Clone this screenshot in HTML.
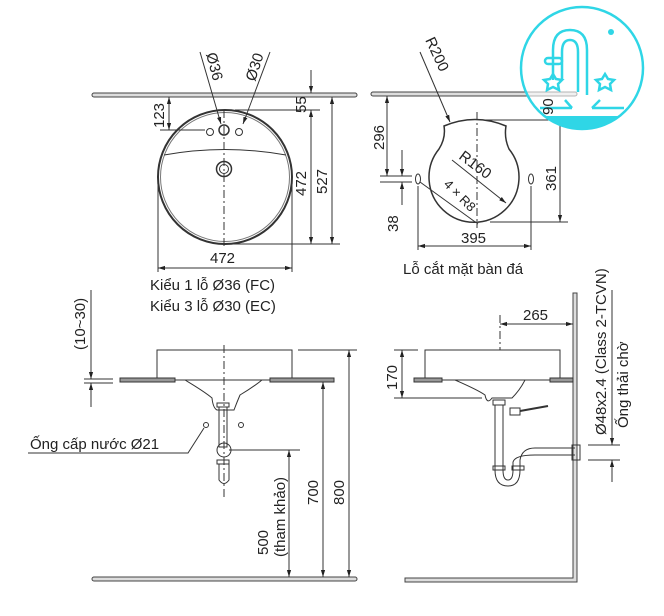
<!DOCTYPE html>
<html><head><meta charset="utf-8"><style>
html,body{margin:0;padding:0;background:#fff;}
svg{display:block;}
text{font-family:"Liberation Sans","Noto Sans CJK SC",sans-serif;fill:#222;}
</style></head><body>
<svg width="664" height="616" viewBox="0 0 664 616" xmlns="http://www.w3.org/2000/svg">
<defs>
<marker id="a" viewBox="0 0 10 10" refX="10" refY="5" markerWidth="7" markerHeight="7" orient="auto-start-reverse"><path d="M0,2 L10,5 L0,8 z" fill="#222"/></marker>
<clipPath id="lc"><circle cx="582" cy="68" r="61"/></clipPath>
</defs>
<g stroke="#333" stroke-width="1" fill="none">
<!-- TOP LEFT -->
<rect x="92" y="93" width="265" height="4" rx="2" fill="#ddd" stroke="#444"/>
<circle cx="225" cy="177" r="67" stroke-width="2"/>
<circle cx="225" cy="177" r="64.5" stroke="#777"/>
<path d="M164,155 Q225,144 286,155"/>
<circle cx="224" cy="169" r="7.5" stroke-width="1.5"/><circle cx="224" cy="169" r="4.5"/>
<circle cx="224" cy="130" r="5" stroke-width="1.5"/><circle cx="210" cy="132" r="3.5"/><circle cx="239" cy="132" r="3.5"/>
<line x1="224" y1="110" x2="224" y2="248" stroke-dasharray="8,3,2,3"/>
<line x1="160" y1="130" x2="205" y2="130"/>
<line x1="169" y1="97" x2="169" y2="130" marker-start="url(#a)" marker-end="url(#a)"/>
<line x1="235" y1="110" x2="320" y2="110"/>
<line x1="311" y1="70" x2="311" y2="93" marker-end="url(#a)"/>
<line x1="311" y1="110" x2="311" y2="244" marker-start="url(#a)" marker-end="url(#a)"/>
<line x1="332" y1="97" x2="332" y2="244" marker-start="url(#a)" marker-end="url(#a)"/>
<line x1="230" y1="244" x2="340" y2="244"/>
<line x1="158" y1="180" x2="158" y2="272"/><line x1="292" y1="180" x2="292" y2="272"/>
<line x1="158" y1="268" x2="292" y2="268" marker-start="url(#a)" marker-end="url(#a)"/>
<line x1="200" y1="52" x2="221" y2="124" marker-end="url(#a)"/>
<line x1="270" y1="52" x2="243" y2="124" marker-end="url(#a)"/>
<!-- TOP RIGHT -->
<rect x="371" y="92" width="206" height="4" rx="2" fill="#ddd" stroke="#444"/>
<path d="M444,126 Q475,113 506,126 Q504,138 509,149 A45,45 0 1 1 439,149 Q446,138 444,126 Z" stroke-width="1.5"/>
<line x1="477" y1="112" x2="477" y2="228" stroke-dasharray="8,3,2,3"/>
<ellipse cx="418" cy="179" rx="2.5" ry="5"/><ellipse cx="531" cy="179" rx="2.5" ry="5"/>
<line x1="418" y1="186" x2="418" y2="250"/><line x1="531" y1="186" x2="531" y2="250"/>
<line x1="418" y1="246" x2="531" y2="246" marker-start="url(#a)" marker-end="url(#a)"/>
<line x1="387" y1="96" x2="387" y2="176" marker-start="url(#a)" marker-end="url(#a)"/>
<line x1="380" y1="176" x2="412" y2="176"/><line x1="380" y1="182" x2="412" y2="182"/>
<line x1="402" y1="150" x2="402" y2="176" marker-end="url(#a)"/>
<line x1="402" y1="205" x2="402" y2="182" marker-end="url(#a)"/>
<line x1="485" y1="120" x2="565" y2="120"/><line x1="490" y1="222" x2="568" y2="222"/>
<line x1="560" y1="120" x2="560" y2="222" marker-end="url(#a)"/>
<line x1="420" y1="52" x2="450" y2="122" marker-end="url(#a)"/>
<line x1="452" y1="160" x2="506" y2="203" marker-end="url(#a)"/>
<line x1="420" y1="182" x2="478" y2="224"/>
<!-- BOTTOM LEFT -->
<rect x="157" y="350" width="135" height="30"/>
<rect x="120" y="378" width="55" height="4" fill="#999"/><rect x="270" y="378" width="64" height="4" fill="#999"/>
<path d="M185,380 Q205,392 212,398 Q213,408 217,410 L234,410 Q237,402 240,395 Q252,388 262,380"/>
<line x1="224" y1="345" x2="224" y2="500" stroke-dasharray="8,3,2,3"/>
<rect x="217" y="403" width="12" height="4"/><rect x="219" y="407" width="8" height="40"/>
<circle cx="224" cy="450" r="7"/><rect x="217" y="460" width="12" height="4"/>
<path d="M219,464 L219,480 Q224,487 229,480 L229,464"/>
<line x1="229" y1="450" x2="300" y2="450"/>
<circle cx="206" cy="425" r="2.5"/><circle cx="241" cy="425" r="2.5"/>
<polyline points="28,453 188,453 204,428"/>
<rect x="92" y="577" width="265" height="4" rx="2" fill="#ddd" stroke="#444"/>
<line x1="298" y1="350" x2="357" y2="350"/>
<line x1="349" y1="350" x2="349" y2="577" marker-start="url(#a)" marker-end="url(#a)"/>
<line x1="323" y1="382" x2="323" y2="577" marker-start="url(#a)" marker-end="url(#a)"/>
<line x1="289" y1="450" x2="289" y2="577" marker-start="url(#a)" marker-end="url(#a)"/>
<line x1="84" y1="379" x2="113" y2="379"/><line x1="84" y1="383" x2="113" y2="383"/>
<line x1="91" y1="290" x2="91" y2="379" marker-end="url(#a)"/>
<line x1="91" y1="407" x2="91" y2="383" marker-end="url(#a)"/>
<!-- BOTTOM RIGHT -->
<path d="M573,293 L577,293 L577,582 L405,582 L405,578 L573,578 Z" fill="#ddd" stroke="#444"/>
<rect x="425" y="350" width="135" height="30"/>
<rect x="414" y="378" width="28" height="4" fill="#999"/><rect x="550" y="378" width="23" height="4" fill="#999"/>
<path d="M455,380 Q478,390 485,395 Q487,405 492,398 L512,398 Q520,390 525,380"/>
<line x1="500" y1="315" x2="500" y2="350" stroke-dasharray="8,3,2,3"/>
<line x1="500" y1="324" x2="573" y2="324" marker-start="url(#a)" marker-end="url(#a)"/>
<line x1="394" y1="350" x2="418" y2="350"/><line x1="394" y1="398" x2="482" y2="398"/>
<line x1="402" y1="350" x2="402" y2="398" marker-start="url(#a)" marker-end="url(#a)"/>
<rect x="493" y="400" width="12" height="5"/><rect x="495" y="405" width="8" height="65"/>
<rect x="510" y="408" width="10" height="7"/><line x1="520" y1="411" x2="548" y2="406" stroke-width="2"/>
<path d="M495,470 Q495,486 508,486 Q520,486 520,470 L520,460 Q522,448 535,448 L575,448 M503,470 Q503,480 508,480 Q513,480 513,470 L513,462 Q515,455 535,455 L575,455"/>
<rect x="493" y="466" width="12" height="4"/><rect x="512" y="466" width="12" height="4"/>
<rect x="572" y="445" width="8" height="15"/>
<line x1="588" y1="445" x2="620" y2="445"/><line x1="588" y1="460" x2="620" y2="460"/>
<line x1="612" y1="290" x2="612" y2="445" marker-end="url(#a)"/>
<line x1="612" y1="482" x2="612" y2="460" marker-end="url(#a)"/>
</g>
<!-- logo -->
<circle cx="582" cy="68" r="61" fill="rgba(255,255,255,0.6)" stroke="#2fd6e6" stroke-width="2.5"/>
<rect x="515" y="116" width="135" height="20" fill="#2fd6e6" clip-path="url(#lc)"/>
<g fill="none" stroke="#2fd6e6" stroke-width="2.5">
<path d="M553,80 L553,50 Q553,30 570,30 Q587,30 587,50 L587,95 M562,80 L562,52 Q562,40 570,40 Q578,40 578,52 L578,92"/>
<rect x="545" y="58" width="17" height="6" rx="3"/>
<path d="M553,74 l3,5 6,1 -4,4 1,6 -6,-3 -6,3 1,-6 -4,-4 6,-1z"/>
<path d="M605,74 l3,5 6,1 -4,4 1,6 -6,-3 -6,3 1,-6 -4,-4 6,-1z"/>
<line x1="565" y1="100" x2="572" y2="108"/><line x1="600" y1="100" x2="592" y2="108"/>
<line x1="540" y1="108" x2="572" y2="108"/><line x1="592" y1="108" x2="624" y2="108"/>
</g>
<circle cx="611" cy="32" r="3" fill="#2fd6e6"/>
<!-- text -->
<g font-size="15">
<text x="150" y="290">Kiểu 1 lỗ Ø36 (FC)</text>
<text x="150" y="311">Kiểu 3 lỗ Ø30 (EC)</text>
<text x="403" y="274">Lỗ cắt mặt bàn đá</text>
<text x="210" y="263">472</text>
<text x="461" y="243">395</text>
<text x="523" y="320">265</text>
<text x="30" y="449">Ống cấp nước Ø21</text>
<text transform="translate(164,128) rotate(-90)">123</text>
<text transform="translate(306,113) rotate(-90)">55</text>
<text transform="translate(306,196) rotate(-90)">472</text>
<text transform="translate(327,194) rotate(-90)">527</text>
<text transform="translate(384,150) rotate(-90)">296</text>
<text transform="translate(398,232) rotate(-90)">38</text>
<text transform="translate(556,191) rotate(-90)">361</text>
<text transform="translate(553,115) rotate(-90)">90</text>
<text transform="translate(206,54) rotate(75)">Ø36</text>
<text transform="translate(255,82) rotate(-72)">Ø30</text>
<text transform="translate(425,40) rotate(65)">R200</text>
<text transform="translate(458,158) rotate(37)">R160</text>
<text transform="translate(443,185) rotate(45)" font-size="13">4 × R8</text>
<text transform="translate(85,350) rotate(-90)">(10~30)</text>
<text transform="translate(397,390) rotate(-90)">170</text>
<text transform="translate(344,505) rotate(-90)">800</text>
<text transform="translate(318,505) rotate(-90)">700</text>
<text transform="translate(268,555) rotate(-90)">500</text>
<text transform="translate(285,557) rotate(-90)">(tham khảo)</text>
<text transform="translate(606,435) rotate(-90)">Ø48x2.4 (Class 2-TCVN)</text>
<text transform="translate(628,428) rotate(-90)">Ống thải chờ</text>
</g>
</svg>
</body></html>
